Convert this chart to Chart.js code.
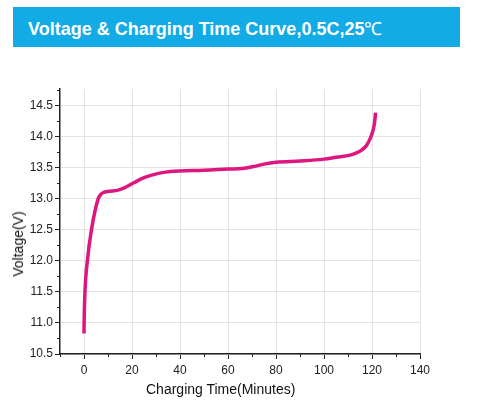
<!DOCTYPE html>
<html>
<head>
<meta charset="utf-8">
<script src="https://cdn.jsdelivr.net/npm/chart.js@4.4.0/dist/chart.umd.min.js"></script>
<style>
  html, body { margin: 0; padding: 0; background: #fff; }
  body { width: 477px; height: 408px; position: relative; overflow: hidden; font-family: "Liberation Sans", Arial, sans-serif; }
  #banner { position: absolute; left: 13px; top: 7px; width: 447px; height: 40px; background: #12ABE6; }
  #banner span.t { position: absolute; left: 15px; top: 9px; color: #fff; font-weight: bold; font-size: 18px; white-space: nowrap; }
  #banner span.d { font-weight: normal; }
  #wrap { position: absolute; left: 0; top: 0; width: 477px; height: 408px; }
  .axtitle { position: absolute; color: #111; font-size: 14px; white-space: nowrap; }
  #xt { left: 146px; top: 381px; }
  #yt { left: 18px; top: 244px; transform: translate(-50%, -50%) rotate(-90deg); }
</style>
</head>
<body>
<div id="wrap"><canvas id="c" width="477" height="408"></canvas></div>
<div id="banner"><span class="t">Voltage &amp; Charging Time Curve,0.5C,25<span class="d">℃</span></span></div>
<div class="axtitle" id="xt">Charging Time(Minutes)</div>
<div class="axtitle" id="yt">Voltage(V)</div>
<script>
const timeMin = [0, 0.05, 0.4, 1.4, 3.1, 5.9, 7.2, 8.0, 10, 14.2, 17, 20.8, 25, 31, 36, 40, 50, 60, 66, 70.7, 75, 80, 90, 100, 105, 110.9, 113.5, 115.8, 117.5, 118.6, 120, 121, 121.5];
const voltage = [10.83, 11.0, 11.5, 12.0, 12.5, 13.0, 13.08, 13.10, 13.12, 13.14, 13.18, 13.26, 13.34, 13.41, 13.44, 13.45, 13.46, 13.48, 13.49, 13.52, 13.56, 13.59, 13.61, 13.64, 13.67, 13.705, 13.74, 13.79, 13.85, 13.92, 14.05, 14.21, 14.39];
const xTicks = [0, 20, 40, 60, 80, 100, 120, 140];
const xTickLabels = ["0", "20", "40", "60", "80", "100", "120", "140"];
const xMinor = [-10, 10, 30, 50, 70, 90, 110, 130];
const yTicks = [10.5, 11.0, 11.5, 12.0, 12.5, 13.0, 13.5, 14.0, 14.5];
const yTickLabels = ["10.5", "11.0", "11.5", "12.0", "12.5", "13.0", "13.5", "14.0", "14.5"];
const yMinor = [10.75, 11.25, 11.75, 12.25, 12.75, 13.25, 13.75, 14.25, 14.75];

const points = timeMin.map((t, i) => ({ x: t, y: voltage[i] }));

const minorTicks = {
  id: 'minorTicks',
  afterDraw(chart) {
    const ctx = chart.ctx;
    const xs = chart.scales.x, ys = chart.scales.y;
    const a = chart.chartArea;
    ctx.save();
    ctx.strokeStyle = '#222';
    ctx.lineWidth = 1;
    ctx.beginPath();
    xMinor.forEach(v => {
      const px = Math.round(xs.getPixelForValue(v)) + 0.5;
      ctx.moveTo(px, a.bottom); ctx.lineTo(px, a.bottom + 3);
    });
    yMinor.forEach(v => {
      const py = Math.round(ys.getPixelForValue(v)) + 0.5;
      ctx.moveTo(a.left, py); ctx.lineTo(a.left - 3, py);
    });
    ctx.stroke();
    ctx.restore();
  }
};

new Chart(document.getElementById('c'), {
  type: 'line',
  data: {
    datasets: [{
      data: points,
      borderColor: '#DE1680',
      borderWidth: 3.5,
      pointRadius: 0,
      fill: false,
      cubicInterpolationMode: 'monotone',
      borderCapStyle: 'butt'
    }]
  },
  options: {
    responsive: false,
    animation: false,
    devicePixelRatio: 1,
    layout: { padding: { left: 0, top: 89, right: 57, bottom: 0 } },
    plugins: { legend: { display: false }, tooltip: { enabled: false }, title: { display: false } },
    scales: {
      x: {
        type: 'linear',
        min: -10, max: 140,
        afterBuildTicks: s => { s.ticks = xTicks.map(v => ({ value: v })); },
        afterFit: s => { s.height = 54; },
        ticks: {
          callback: (v) => { const i = xTicks.indexOf(v); return i >= 0 ? xTickLabels[i] : ''; },
          color: '#222', font: { family: 'Liberation Sans', size: 12 }, padding: 4, maxRotation: 0, autoSkip: false
        },
        grid: { color: '#e3e3e3', lineWidth: 1, drawTicks: true, tickLength: 5, tickColor: '#222', tickWidth: 1 },
        border: { display: true, color: '#222', width: 1.5 }
      },
      y: {
        type: 'linear',
        min: 10.5, max: 14.77,
        afterBuildTicks: s => { s.ticks = yTicks.map(v => ({ value: v })); },
        afterFit: s => { s.width = 60; },
        ticks: {
          callback: (v) => { const i = yTicks.findIndex(t => Math.abs(t - v) < 1e-6); return i >= 0 ? yTickLabels[i] : ''; },
          color: '#222', font: { family: 'Liberation Sans', size: 12 }, padding: 2, autoSkip: false
        },
        grid: { color: '#e3e3e3', lineWidth: 1, drawTicks: true, tickLength: 5, tickColor: '#222', tickWidth: 1 },
        border: { display: true, color: '#222', width: 1.5 }
      }
    }
  },
  plugins: [minorTicks]
});
</script>
</body>
</html>
